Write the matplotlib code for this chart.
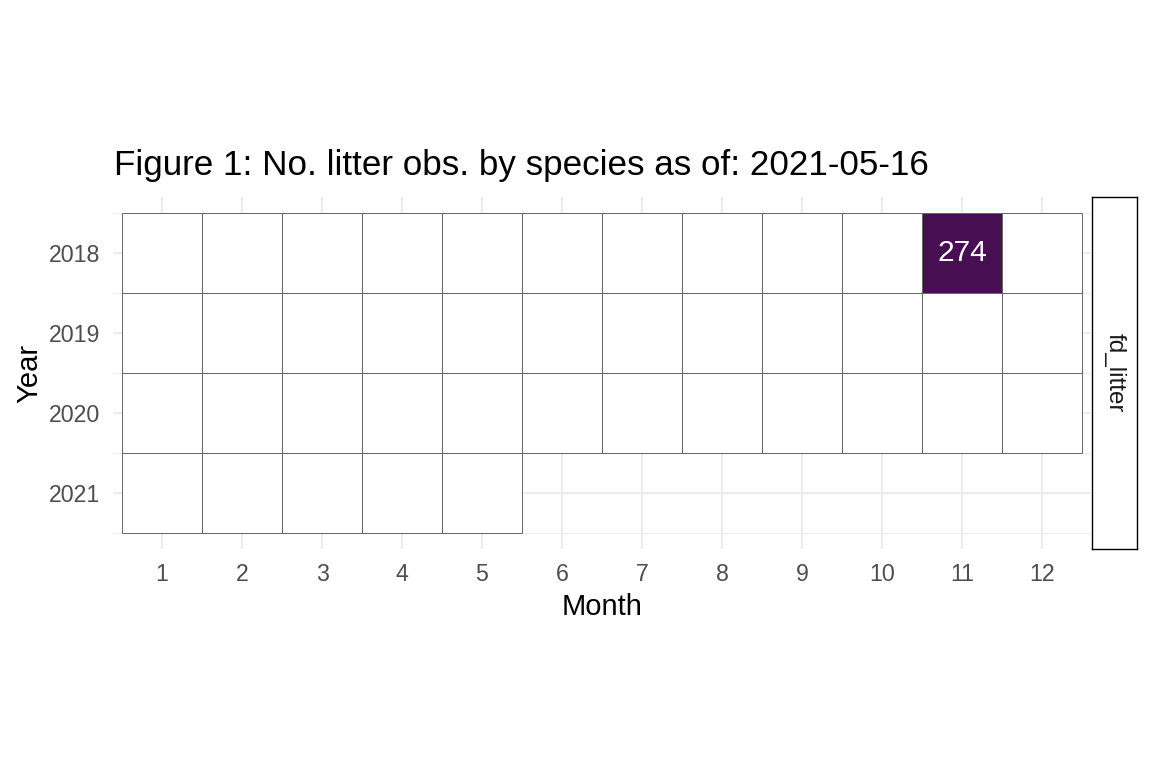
import matplotlib
matplotlib.use("Agg")
import matplotlib.pyplot as plt
import numpy as np
from matplotlib.colors import ListedColormap, BoundaryNorm

plt.rcParams["font.family"] = ["Liberation Sans", "DejaVu Sans"]

# data: litter observation counts per year / month (nan = no tile)
years = [2018, 2019, 2020, 2021]
months = list(range(1, 13))
counts_2018 = [0, 0, 0, 0, 0, 0, 0, 0, 0, 0, 274, 0]
counts_2019 = [0, 0, 0, 0, 0, 0, 0, 0, 0, 0, 0, 0]
counts_2020 = [0, 0, 0, 0, 0, 0, 0, 0, 0, 0, 0, 0]
counts_2021 = [0, 0, 0, 0, 0, np.nan, np.nan, np.nan, np.nan, np.nan, np.nan, np.nan]
facet_label = "fd_litter"
title = "Figure 1: No. litter obs. by species as of: 2021-05-16"

grid = np.array([counts_2018, counts_2019, counts_2020, counts_2021], dtype=float)

W, H = 1152, 768
fig = plt.figure(figsize=(W / 100, H / 100), dpi=100)

# panel placement in pixels (80 px per tile so edges land on whole pixels)
px_l, px_r, px_t, px_b = 114, 1090, 197, 549
ax = fig.add_axes([px_l / W, 1 - px_b / H, (px_r - px_l) / W, (px_b - px_t) / H])

grid_col = "#EBEBEB"
for m in months:
    ax.axvline(m, color=grid_col, lw=1.5, zorder=0)
for y in years:
    ax.axhline(y, color=grid_col, lw=1.5, zorder=0)
for y in np.arange(years[0] - 0.5, years[-1] + 1, 1.0):
    ax.axhline(y, color=grid_col, lw=0.75, zorder=0)

cmap = ListedColormap(["white", "#470F52"])
norm = BoundaryNorm([0, 1, np.nanmax(grid) + 1], cmap.N)

# one tile per (year, month) that has a value
for i, yr in enumerate(years):
    for j, mo in enumerate(months):
        v = grid[i, j]
        if np.isnan(v):
            continue
        ax.bar(mo, 1.0, width=1.0, bottom=yr - 0.5, color=cmap(norm(v)),
               edgecolor="#666666", linewidth=0.7, zorder=2)
        if v > 0:
            ax.text(mo, yr, f"{int(v)}", color="white", fontsize=21.5,
                    ha="center", va="center", zorder=3)

ax.set_xlim(0.4, 12.6)
ax.set_ylim(years[-1] + 0.7, years[0] - 0.7)
ax.set_xticks(months)
ax.set_xticklabels([str(m) for m in months])
ax.set_yticks(years)
ax.set_yticklabels([str(y) for y in years])
ax.tick_params(length=0, labelsize=16.7, labelcolor="#4D4D4D")
ax.tick_params(axis="x", pad=10)
ax.tick_params(axis="y", pad=10)
for s in ax.spines.values():
    s.set_visible(False)

ax.set_xlabel("Month", fontsize=21, labelpad=5)
ax.set_ylabel("Year", fontsize=21, labelpad=4)

# facet strip on the right
sax = fig.add_axes([1092 / W, 1 - px_b / H, 45 / W, (px_b - px_t) / H])
sax.set_xticks([])
sax.set_yticks([])
for s in sax.spines.values():
    s.set_color("black")
    s.set_linewidth(1.0)
sax.text(0.5, 0.5, facet_label, rotation=-90, ha="center", va="center",
         fontsize=17.5, color="#1A1A1A", transform=sax.transAxes)

fig.text(px_l / W, 1 - 175 / H, title, fontsize=25.2, ha="left", va="baseline")

fig.savefig("out.png", dpi=100, facecolor="white")
